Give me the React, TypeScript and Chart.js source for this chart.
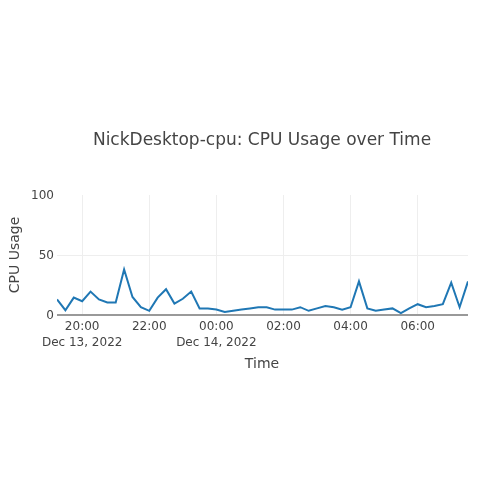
import React, { useEffect, useRef } from "react";
import { Chart, registerables } from "chart.js";

Chart.register(...registerables);

const titleText = "NickDesktop-cpu: CPU Usage over Time";
const xTitle = "Time";
const yTitle = "CPU Usage";

const timestamps = [
  "12-13 19:15", "12-13 19:30", "12-13 19:45", "12-13 20:00", "12-13 20:15", "12-13 20:30", "12-13 20:45",
  "12-13 21:00", "12-13 21:15", "12-13 21:30", "12-13 21:45", "12-13 22:00", "12-13 22:15", "12-13 22:30",
  "12-13 22:45", "12-13 23:00", "12-13 23:15", "12-13 23:30", "12-13 23:45", "12-14 00:00", "12-14 00:15",
  "12-14 00:30", "12-14 00:45", "12-14 01:00", "12-14 01:15", "12-14 01:30", "12-14 01:45", "12-14 02:00",
  "12-14 02:15", "12-14 02:30", "12-14 02:45", "12-14 03:00", "12-14 03:15", "12-14 03:30", "12-14 03:45",
  "12-14 04:00", "12-14 04:15", "12-14 04:30", "12-14 04:45", "12-14 05:00", "12-14 05:15", "12-14 05:30",
  "12-14 05:45", "12-14 06:00", "12-14 06:15", "12-14 06:30", "12-14 06:45", "12-14 07:00", "12-14 07:15",
  "12-14 07:30",
];

const cpuUsage = [
  13, 4, 14.5, 11.5, 19.5, 13, 10.5, 10.5, 38, 15, 6.5, 3.5, 14.5, 21.5, 9.5, 13.5, 19.5,
  5.5, 5.5, 4.5, 2.5, 3.5, 4.5, 5.5, 6.5, 6.5, 4.5, 4.5, 4.5, 6.5, 3.5, 5.5, 7.5, 6.5, 4.5,
  6.5, 28, 5.5, 3.5, 4.5, 5.5, 1.5, 5.5, 9, 6.5, 7.5, 9, 27, 6.5, 28,
];

const tickHours = [20, 22, 24, 26, 28, 30];
const tickLabels = ["20:00", "22:00", "00:00", "02:00", "04:00", "06:00"];
const tickDates = ["Dec 13, 2022", "", "Dec 14, 2022", "", "", ""];
const yTicks = [0, 50, 100];

const FONT = "'DejaVu Sans', verdana, sans-serif";
const TEXT = "#444";

function toHours(ts: string): number {
  const [md, hm] = ts.split(" ");
  const day = parseInt(md.split("-")[1], 10);
  const [h, m] = hm.split(":").map((v) => parseInt(v, 10));
  return (day - 13) * 24 + h + m / 60;
}

const titlesPlugin = {
  id: "titles",
  afterDraw(chart: any) {
    const ctx = chart.ctx;
    ctx.save();
    ctx.fillStyle = TEXT;
    ctx.textAlign = "center";
    ctx.textBaseline = "middle";
    ctx.font = `17px ${FONT}`;
    ctx.fillText(titleText, 262, 141);
    ctx.font = `14px ${FONT}`;
    ctx.fillText(xTitle, 262, 364);
    ctx.translate(15, 255);
    ctx.rotate(-Math.PI / 2);
    ctx.fillText(yTitle, 0, 0);
    ctx.restore();
  },
};

export default function App() {
  const ref = useRef<HTMLCanvasElement | null>(null);
  useEffect(() => {
    if (!ref.current) return;
    const points = timestamps.map((t, i) => ({ x: toHours(t), y: cpuUsage[i] }));
    const chart = new Chart(ref.current, {
      type: "line",
      data: {
        datasets: [
          {
            data: points,
            borderColor: "#1f77b4",
            borderWidth: 2,
            pointRadius: 0,
            tension: 0,
            fill: false,
          },
        ],
      },
      options: {
        responsive: false,
        animation: false,
        devicePixelRatio: 1,
        layout: { padding: { top: 195, right: 32, bottom: 0, left: 0 } },
        plugins: { legend: { display: false }, tooltip: { enabled: false }, title: { display: false } },
        scales: {
          x: {
            type: "linear",
            min: toHours(timestamps[0]),
            max: toHours(timestamps[timestamps.length - 1]),
            afterFit: (s: any) => {
              s.height = 185;
            },
            afterBuildTicks: (s: any) => {
              s.ticks = tickHours.map((v) => ({ value: v }));
            },
            grid: { color: "#eeeeee", lineWidth: 1, drawTicks: false },
            border: { display: false },
            ticks: {
              autoSkip: false,
              maxRotation: 0,
              padding: 4,
              color: TEXT,
              font: { family: FONT, size: 12, lineHeight: 1.35 },
              callback: (v: any) => {
                const i = tickHours.indexOf(Number(v));
                if (i < 0) return "";
                return tickDates[i] ? [tickLabels[i], tickDates[i]] : tickLabels[i];
              },
            },
          },
          y: {
            min: 0,
            max: 100,
            afterFit: (s: any) => {
              s.width = 57;
            },
            afterBuildTicks: (s: any) => {
              s.ticks = yTicks.map((v) => ({ value: v }));
            },
            grid: {
              color: (c: any) =>
                c.tick && c.tick.value === 0 ? "#999999" : c.tick && c.tick.value === 100 ? "rgba(0,0,0,0)" : "#eeeeee",
              lineWidth: (c: any) => (c.tick && c.tick.value === 0 ? 2 : 1),
              drawTicks: false,
            },
            border: { display: false },
            ticks: {
              padding: 3,
              labelOffset: 1,
              color: TEXT,
              font: { family: FONT, size: 12 },
            },
          },
        },
      },
      plugins: [titlesPlugin],
    });
    return () => chart.destroy();
  }, []);
  return (
    <div style={{ position: "absolute", left: 0, top: 0, width: 500, height: 500, background: "#fff" }}>
      <canvas ref={ref} width={500} height={500} style={{ width: 500, height: 500 }} />
    </div>
  );
}
